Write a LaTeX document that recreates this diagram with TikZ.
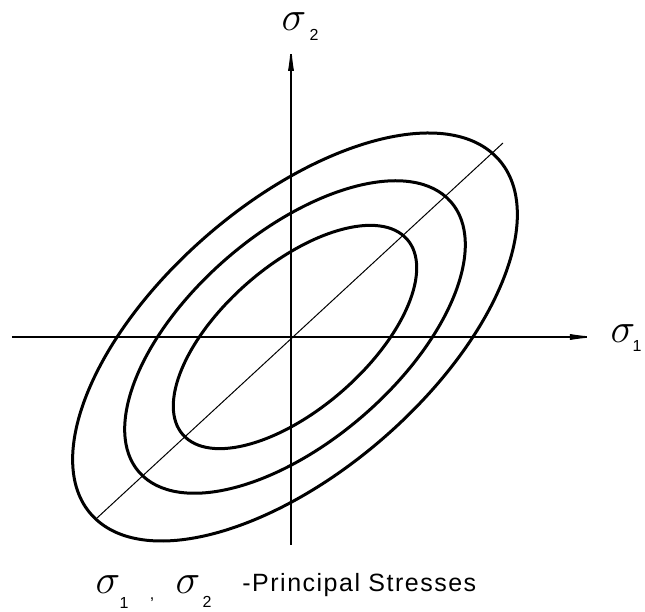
\documentclass[tikz,border=0pt]{standalone}
\usepackage{fontspec}
\setmainfont{Liberation Sans}
\usetikzlibrary{arrows.meta}
\begin{document}
\begin{tikzpicture}[x=0.5pt,y=0.5pt,
  axis/.style={line width=0.8pt, -{Latex[length=14pt,width=3pt]}},
  curve/.style={line width=1.5pt},
  diag/.style={line width=0.5pt},
  sig/.style={inner sep=0pt, font=\fontsize{20}{20}\selectfont},
  subs/.style={inner sep=0pt, font=\fontsize{8}{8}\selectfont},
  captext/.style={inner sep=0pt, anchor=west, font=\fontsize{12.5}{13}\selectfont\addfontfeature{LetterSpace=6}}]
\useasboundingbox (0,0) rectangle (645,612);
\coordinate (O) at (291,275);
\coordinate (xs) at (12,275);
\coordinate (xe) at (598,275);
\coordinate (ys) at (291,67);
\coordinate (ye) at (291,569);
\coordinate (ds) at (97,94);
\coordinate (de) at (503,469);
\draw[axis] (xs) -- (xe);
\draw[axis] (ys) -- (ye);
\draw[diag] (ds) -- (de);
\begin{scope}[shift={(295,275)}, xscale=1.09, rotate=45]
  \draw[curve] (0,0) ellipse [x radius=258, y radius=129];
  \draw[curve] (0,0) ellipse [x radius=197, y radius=100];
  \draw[curve] (0,0) ellipse [x radius=142, y radius=69];
\end{scope}
\node[sig] (s2) at (294,590) {$\sigma$};
\node[subs] (s2i) at (314,577) {2};
\node[sig] (s1) at (623,278) {$\sigma$};
\node[subs] (s1i) at (637,266) {1};
\node[sig] (b1) at (108,27) {$\sigma$};
\node[subs] (b1i) at (124,9) {1};
\node[subs] (comma) at (152,12) {,};
\node[sig] (b2) at (188,27) {$\sigma$};
\node[subs] (b2i) at (207,10) {2};
\node[captext] (capt) at (242,27) {-Principal Stresses};
\end{tikzpicture}
\end{document}
